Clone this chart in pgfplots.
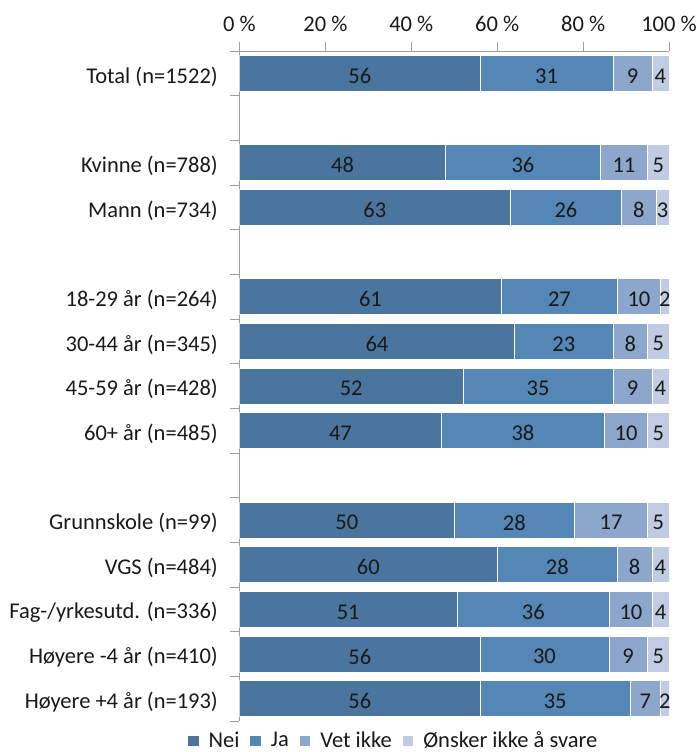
\documentclass[border=0pt]{standalone}
\usepackage{pgfplots}
\pgfplotsset{compat=1.18}
\usepackage{pgfplotstable}
\usepackage{fontspec}
\setmainfont{Carlito}

\definecolor{cNei}{RGB}{74,117,159}
\definecolor{cJa}{RGB}{84,134,182}
\definecolor{cVet}{RGB}{141,167,204}
\definecolor{cOns}{RGB}{192,204,227}
\definecolor{txt}{RGB}{25,25,25}

% row y (14 = top), share per answer
\pgfplotstableread{
y  nei  ja   vet  ons
14 56   31   9    4
12 48   36   11   5
11 63   26   8    3
9  61   27   10   2
8  64   23   8    5
7  52   35   9    4
6  47   38   10   5
4  50   28   17   5
3  60   28   8    4
2  50.6 35.6 9.9  3.9
1  56   30   9    5
0  56   35   7    2
}\answers

\begin{document}
\begin{tikzpicture}[font=\fontsize{22.5}{26}\selectfont, text=txt]
\useasboundingbox (-239.5pt,51pt) rectangle (458.5pt,-701pt);
\begin{axis}[
  at={(0,0)}, anchor=north west,
  scale only axis,
  x=4.295pt, y=44.667pt,
  xmin=0, xmax=100, ymin=-0.5, ymax=14.5,
  xbar stacked, bar width=36pt,
  axis x line*=top, axis y line*=left,
  tick align=outside,
  axis line style={draw=black!38, line width=0.8pt},
  every tick/.style={draw=black!38, line width=0.8pt},
  major tick length=9pt,
  xtick={0,20,...,100},
  xticklabels={0 \%,20 \%,40 \%,60 \%,80 \%,100 \%},
  xticklabel style={inner sep=0pt, yshift=10pt},
  ytick={-0.5,0.5,...,14.5}, yticklabels={},
  extra y ticks={14,12,11,9,8,7,6,4,3,2,1,0},
  extra y tick labels={Total (n=1522),Kvinne (n=788),Mann (n=734),18-29 år (n=264),30-44 år (n=345),45-59 år (n=428),60+ år (n=485),Grunnskole (n=99),VGS (n=484),Fag-/yrkesutd. (n=336),Høyere -4 år (n=410),Høyere +4 år (n=193)},
  extra y tick style={major tick length=0pt, yticklabel style={inner sep=0pt, xshift=-21.5pt, yshift=-3pt}},
  point meta=explicit,
  /pgf/number format/assume math mode=true,
  nodes near coords={\pgfmathprintnumber[fixed,precision=0]{\pgfplotspointmeta}},
  every node near coord/.append style={anchor=center, text=txt, yshift=-2.5pt},
  legend style={at={(axis description cs:0.359,-0.029)}, anchor=center,
    draw=none, fill=none, inner sep=0pt, legend columns=4,
    /tikz/every odd column/.append style={column sep=8pt},
    /tikz/every even column/.append style={column sep=9pt}},
  legend image code/.code={\fill[#1, draw=none] (0pt,-6pt) rectangle (10.5pt,4.5pt);},
]
\addplot[fill=cNei, draw=white, line width=0.6pt]
  table[x=nei, y=y, meta=nei] {\answers};
\addplot[fill=cJa, draw=white, line width=0.6pt]
  table[x=ja, y=y, meta=ja] {\answers};
\addplot[fill=cVet, draw=white, line width=0.6pt]
  table[x=vet, y=y, meta=vet] {\answers};
\addplot[fill=cOns, draw=white, line width=0.6pt]
  table[x=ons, y=y, meta=ons] {\answers};
\legend{Nei,Ja,Vet ikke,Ønsker ikke å svare}
\end{axis}
\end{tikzpicture}
\end{document}
